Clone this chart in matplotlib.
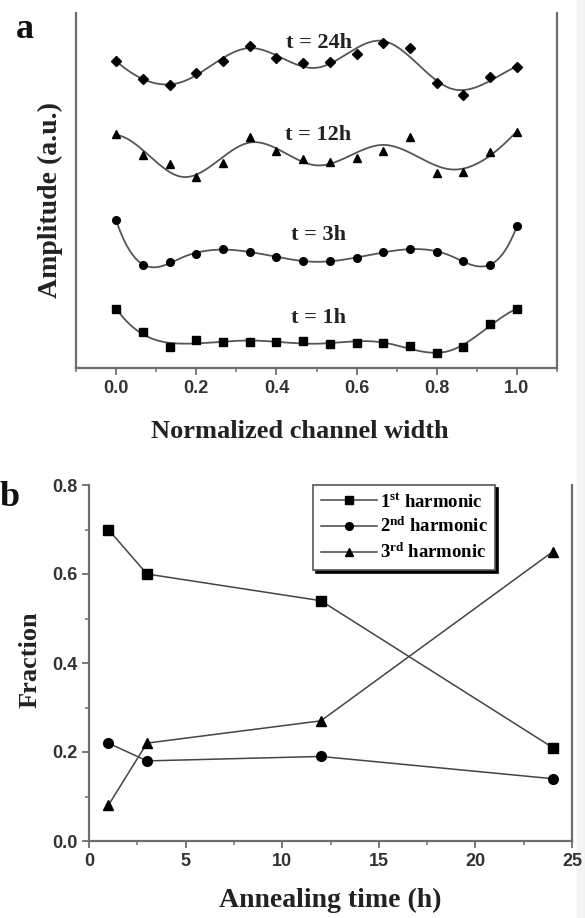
import numpy as np
import matplotlib
matplotlib.use("Agg")
import matplotlib.pyplot as plt
import matplotlib.patches as mpatches

plt.rcParams["mathtext.fontset"] = "custom"
plt.rcParams["mathtext.rm"] = "Liberation Serif:bold"
plt.rcParams["mathtext.it"] = "Liberation Serif:bold"
plt.rcParams["mathtext.bf"] = "Liberation Serif:bold"

# panel a: amplitude profiles across the channel (a.u.)
channel_x = np.arange(16) / 15
amp_24h = [3.07, 2.89, 2.83, 2.95, 3.07, 3.22, 3.10, 3.05, 3.06, 3.14, 3.25, 3.20, 2.85, 2.73, 2.91, 3.01]
amp_12h = [2.34, 2.13, 2.04, 1.91, 2.05, 2.31, 2.17, 2.09, 2.06, 2.10, 2.17, 2.31, 1.95, 1.96, 2.16, 2.36]
amp_3h = [1.48, 1.03, 1.06, 1.14, 1.19, 1.16, 1.11, 1.07, 1.07, 1.10, 1.16, 1.19, 1.16, 1.07, 1.03, 1.42]
amp_1h = [0.59, 0.36, 0.21, 0.28, 0.26, 0.26, 0.26, 0.27, 0.24, 0.25, 0.25, 0.22, 0.15, 0.21, 0.44, 0.59]
profile_labels = ["t = 24h", "t = 12h", "t = 3h", "t = 1h"]
profile_markers = ["D", "^", "o", "s"]
label_y = [3.25, 2.33, 1.33, 0.50]  # where the t = ... labels sit

# panel b: harmonic fractions vs annealing time
anneal_time = [1, 3, 12, 24]
frac_1st = [0.70, 0.60, 0.54, 0.21]
frac_2nd = [0.22, 0.18, 0.19, 0.14]
frac_3rd = [0.08, 0.22, 0.27, 0.65]
harmonic_labels = [r"1$^{st}$ harmonic", r"2$^{nd}$ harmonic", r"3$^{rd}$ harmonic"]

serif = "Liberation Serif"
sans = "Liberation Sans"
spine_col = "#6e6e6e"


def bspline_basis(x, t, k=3):
    x = np.asarray(x, float)
    B = np.zeros((len(x), len(t) - 1))
    for i in range(len(t) - 1):
        if t[i] < t[i + 1]:
            B[:, i] = (x >= t[i]) & (x < t[i + 1])
    last = np.max(np.nonzero(np.diff(t) > 0))
    B[x >= t[-1], last] = 1
    for d in range(1, k + 1):
        Bn = np.zeros((len(x), len(t) - 1 - d))
        for i in range(len(t) - 1 - d):
            if t[i + d] > t[i]:
                Bn[:, i] += (x - t[i]) / (t[i + d] - t[i]) * B[:, i]
            if t[i + d + 1] > t[i + 1]:
                Bn[:, i] += (t[i + d + 1] - x) / (t[i + d + 1] - t[i + 1]) * B[:, i + 1]
        B = Bn
    return B


def smooth_fit(x, y, n_int=5, npts=300):
    # least squares cubic spline, evenly spaced interior knots
    inner = np.linspace(0, 1, n_int + 2)[1:-1]
    t = np.concatenate([[0] * 4, inner, [1] * 4])
    coef, *_ = np.linalg.lstsq(bspline_basis(x, t), np.asarray(y), rcond=None)
    xs = np.linspace(0, 1, npts)
    return xs, bspline_basis(xs, t) @ coef


def style_axes(ax):
    ax.spines["top"].set_visible(False)
    for s in ["left", "bottom", "right"]:
        ax.spines[s].set_color(spine_col)
        ax.spines[s].set_linewidth(1.6)
    ax.tick_params(which="major", direction="out", length=5, width=1.3, color=spine_col,
                   labelsize=13, labelcolor="#333333")
    ax.tick_params(which="minor", direction="out", length=3, width=1.1, color=spine_col)
    for lab in ax.get_xticklabels() + ax.get_yticklabels():
        lab.set_fontfamily(sans)
        lab.set_fontweight("bold")


fig = plt.figure(figsize=(5.85, 9.18), dpi=100)
W, H = 585, 918

# faint scan strip at the right edge
fig.patches.append(mpatches.Rectangle((577 / W, 0), 8 / W, 1, transform=fig.transFigure,
                                      color="#f3f3f3", zorder=-5))

# ---------- panel a ----------
ax1 = fig.add_axes([76 / W, 1 - 368 / H, 481 / W, 355 / H])
ax1.patch.set_alpha(0)
for amp, lab, mk, ly in zip([amp_24h, amp_12h, amp_3h, amp_1h], profile_labels,
                            profile_markers, label_y):
    xs, ys = smooth_fit(channel_x, amp)
    ax1.plot(xs, ys, color="#555555", lw=1.3, zorder=2)
    ax1.plot(channel_x, amp, mk, color="black", ms=5.5 if mk != "D" else 5, zorder=3)
    ax1.text(0.505, ly, lab, ha="center", va="center", fontsize=16,
             fontfamily=serif, fontweight="bold", color="#222222")
ax1.set_xlim(-0.1, 1.1)
ax1.set_ylim(0, 3.55)
ax1.set_xticks(np.arange(0, 1.01, 0.2))
ax1.set_xticks(np.arange(-0.1, 1.11, 0.1), minor=True)
ax1.set_yticks([])
style_axes(ax1)
ax1.xaxis.set_major_formatter(matplotlib.ticker.FormatStrFormatter("%.1f"))
fig.text(300 / W, 1 - 432 / H, "Normalized channel width", ha="center", va="center",
         fontsize=19, fontfamily=serif, fontweight="bold", color="#222222")
fig.text(50 / W, 1 - 200 / H, "Amplitude (a.u.)", ha="center", va="center", rotation=90,
         fontsize=20, fontfamily=serif, fontweight="bold", color="#222222")
fig.text(25 / W, 1 - 29 / H, "a", ha="center", va="center", fontsize=26,
         fontfamily=serif, fontweight="bold", color="#111111")

# ---------- panel b ----------
ax2 = fig.add_axes([89 / W, 1 - 841 / H, 483 / W, 356 / H])
ax2.patch.set_alpha(0)
for frac, mk, lab in zip([frac_1st, frac_2nd, frac_3rd], ["s", "o", "^"], harmonic_labels):
    ax2.plot(anneal_time, frac, "-", marker=mk, color="#444444", lw=1.1,
             mfc="black", mec="black", ms=7, label=lab)
ax2.set_xlim(0, 25)
ax2.set_ylim(0, 0.8)
ax2.set_xticks([0, 5, 10, 15, 20, 25])
ax2.set_xticks(np.arange(0, 25.1, 2.5), minor=True)
ax2.set_yticks([0.0, 0.2, 0.4, 0.6, 0.8])
ax2.set_yticks(np.arange(0, 0.81, 0.1), minor=True)
style_axes(ax2)
ax2.yaxis.set_major_formatter(matplotlib.ticker.FormatStrFormatter("%.1f"))
leg = ax2.legend(loc="upper right", bbox_to_anchor=(0.841, 1.0), borderaxespad=0,
                 prop={"family": serif, "weight": "bold", "size": 13.5},
                 handlelength=3.0, handletextpad=0.15, labelspacing=0.35, markerscale=0.8,
                 fancybox=False, shadow={"color": "black", "alpha": 1.0},
                 frameon=True, edgecolor="#555555", framealpha=1)
leg.get_frame().set_linewidth(1.2)
fig.text(330 / W, 1 - 900 / H, "Annealing time (h)", ha="center", va="center",
         fontsize=20, fontfamily=serif, fontweight="bold", color="#222222")
fig.text(30 / W, 1 - 660 / H, "Fraction", ha="center", va="center", rotation=90,
         fontsize=19, fontfamily=serif, fontweight="bold", color="#222222")
fig.text(10 / W, 1 - 497 / H, "b", ha="center", va="center", fontsize=26,
         fontfamily=serif, fontweight="bold", color="#111111")

fig.savefig("out.png", dpi=100)
